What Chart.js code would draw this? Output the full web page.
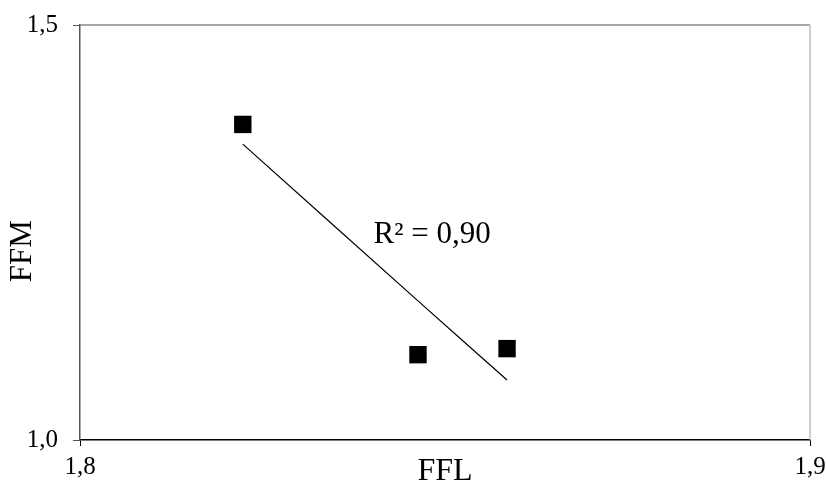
<!DOCTYPE html>
<html>
<head>
<meta charset="utf-8">
<script src="https://cdn.jsdelivr.net/npm/chart.js@4"></script>
<style>
  html, body { margin: 0; padding: 0; background: #fff; }
  #wrap { width: 826px; height: 486px; }
</style>
</head>
<body>
<div id="wrap"><canvas id="ffm-chart"></canvas></div>
<script>
// values
const ffl = [1.8223, 1.8463, 1.8585];
const ffm = [1.3802, 1.1028, 1.1101];
const trendX = [1.8223, 1.8463, 1.8585];
const trendY = [1.3565, 1.1676, 1.0723];
const xTicks = [1.8, 1.9];
const yTicks = [1.0, 1.5];
const r2Text = 'R² = 0,90';
const yTitle = 'FFM';

const serif = "'Liberation Serif', 'Times New Roman', serif";
const fmt = v => v.toFixed(1).replace('.', ',');

// light frame on top and right, the R² note and the y title
const framePlugin = {
    id: 'frame',
    afterDraw(chart) {
        const { ctx, chartArea: a } = chart;
        ctx.save();
        ctx.lineWidth = 1.5;
        ctx.strokeStyle = '#8a8a8a';
        ctx.beginPath();
        ctx.moveTo(a.left, a.top);
        ctx.lineTo(a.right, a.top);
        ctx.stroke();
        ctx.strokeStyle = '#bdbdbd';
        ctx.beginPath();
        ctx.moveTo(a.right, a.top);
        ctx.lineTo(a.right, a.bottom);
        ctx.stroke();

        ctx.fillStyle = '#000';
        ctx.font = '31px ' + serif;
        ctx.textAlign = 'left';
        ctx.textBaseline = 'middle';
        ctx.fillText(r2Text, a.left + 0.402 * (a.right - a.left), a.top + 0.506 * (a.bottom - a.top));

        ctx.font = '31px ' + serif;
        ctx.textAlign = 'center';
        ctx.translate(23, a.top + 0.545 * (a.bottom - a.top));
        ctx.rotate(-Math.PI / 2);
        ctx.fillText(yTitle, 0, 0);
        ctx.restore();
    }
};

new Chart(document.getElementById('ffm-chart'), {
    type: 'scatter',
    data: {
        datasets: [{
            label: 'FFM',
            data: ffl.map((x, i) => ({ x: x, y: ffm[i] })),
            pointStyle: 'rect',
            pointRadius: 12.3,
            pointBorderWidth: 0,
            backgroundColor: '#000',
            borderColor: '#000'
        }, {
            type: 'line',
            label: 'trend',
            data: trendX.map((x, i) => ({ x: x, y: trendY[i] })),
            borderColor: '#000',
            borderWidth: 1.2,
            pointRadius: 0,
            tension: 0.4,
            fill: false
        }]
    },
    plugins: [framePlugin],
    options: {
        responsive: true,
        maintainAspectRatio: false,
        animation: false,
        layout: { padding: { top: 25, right: 16, left: 0, bottom: 0 } },
        plugins: {
            legend: { display: false },
            tooltip: { enabled: false }
        },
        scales: {
            x: {
                type: 'linear',
                min: 1.8,
                max: 1.9,
                afterBuildTicks: s => { s.ticks = xTicks.map(v => ({ value: v })); },
                afterFit: s => {
                    s.height = 46;
                    s.paddingLeft = 0;
                    s.paddingRight = 0;
                },
                ticks: {
                    color: '#000',
                    font: { family: serif, size: 25 },
                    padding: 6,
                    maxRotation: 0,
                    callback: v => fmt(v)
                },
                grid: { drawOnChartArea: false, drawTicks: true, tickLength: 6, color: '#000' },
                border: { color: '#000', width: 1.5 },
                title: {
                    display: true,
                    text: 'FFL',
                    color: '#000',
                    font: { family: serif, size: 32 },
                    padding: { top: 0, bottom: -5 }
                }
            },
            y: {
                type: 'linear',
                min: 1.0,
                max: 1.5,
                afterBuildTicks: s => { s.ticks = yTicks.map(v => ({ value: v })); },
                afterFit: s => {
                    s.width = 80;
                    s.paddingTop = 0;
                    s.paddingBottom = 0;
                },
                ticks: {
                    color: '#000',
                    font: { family: serif, size: 25 },
                    padding: 15,
                    callback: v => fmt(v)
                },
                grid: { drawOnChartArea: false, drawTicks: true, tickLength: 7, color: '#555' },
                border: { color: '#555', width: 1.5 },
                title: { display: false }
            }
        }
    }
});
</script>
</body>
</html>
